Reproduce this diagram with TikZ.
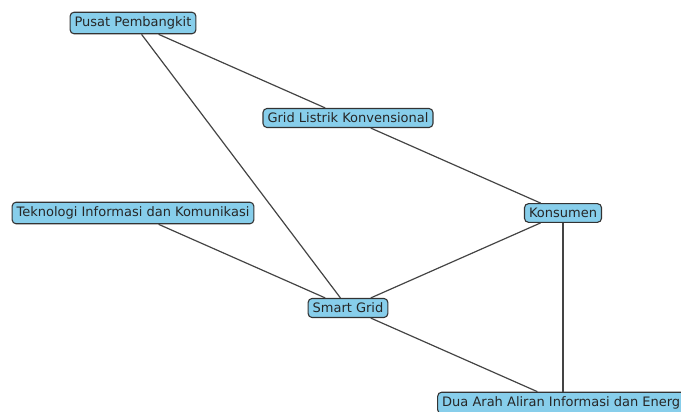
\documentclass[tikz,border=0pt]{standalone}
\usepackage{fontspec}
\setmainfont{DejaVu Sans}
\definecolor{boxfill}{HTML}{87CEEB}
\definecolor{boxline}{HTML}{333333}
\definecolor{edgeline}{HTML}{444444}
\begin{document}
\begin{tikzpicture}[x=1pt, y=-1pt]
\tikzstyle{box}=[draw=boxline, fill=boxfill, rounded corners=4pt, line width=1.1pt, inner xsep=4.5pt, inner ysep=4.5pt, font=\fontsize{13}{15}\selectfont, text=black!85]
\tikzstyle{edge}=[draw=edgeline, line width=1.2pt]

\useasboundingbox (0,0) rectangle (681,412);

\node[box] (pusat) at (133, 23) {Pusat Pembangkit};
\node[box] (grid) at (348, 118) {Grid Listrik Konvensional};
\node[box] (tik) at (133, 213) {Teknologi Informasi dan Komunikasi};
\node[box] (konsumen) at (563, 213) {Konsumen};
\node[box] (smart) at (348, 308) {Smart Grid};
\node[box] (duaarah) at (563, 403) {Dua Arah Aliran Informasi dan Energi};

\draw[edge] (pusat) -- (grid);
\draw[edge] (pusat) -- (smart);
\draw[edge] (grid) -- (konsumen);
\draw[edge] (tik) -- (smart);
\draw[edge] (konsumen) -- (smart);
\draw[edge] (konsumen) -- (duaarah);
\draw[edge] (smart) -- (duaarah);

\end{tikzpicture}
\end{document}
